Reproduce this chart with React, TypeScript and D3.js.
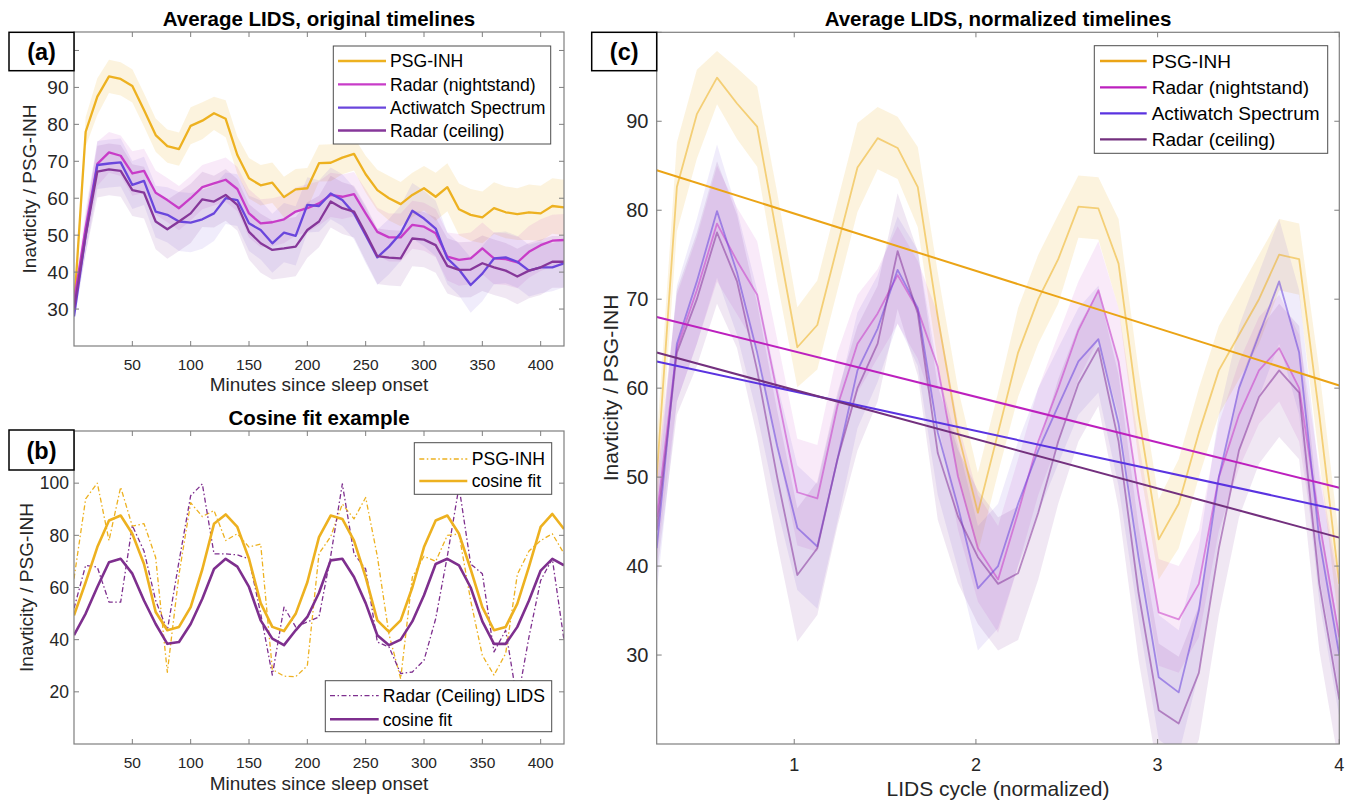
import React from "react";
import * as d3 from "d3";

const FONT = "'Liberation Sans', Arial, Helvetica, sans-serif";
const INK = "#262626";
const AXIS = "#7f7f7f";

// ---------- shared ----------
const seriesNames = ["PSG-INH", "Radar (nightstand)", "Actiwatch Spectrum", "Radar (ceiling)"];
const seriesColors = ["#EDB120", "#C83CC8", "#6A46DC", "#86379A"];
const trendColors = ["#EBA416", "#BC20BE", "#5A33E0", "#73307E"];

// ---------- panel (a) ----------
const minutes = [0, 10, 20, 30, 40, 50, 60, 70, 80, 90, 100, 110, 120, 130, 140, 150, 160, 170, 180, 190, 200,
  210, 220, 230, 240, 250, 260, 270, 280, 290, 300, 310, 320, 330, 340, 350, 360, 370, 380, 390, 400, 410, 420];

const psgA = [30, 78, 87.5, 93, 92.3, 90.4, 83.9, 77.1, 74.1, 73.3, 79.6, 81, 83, 81.5, 71.7, 65.4, 63.5, 64.2, 60.3,
  62.4, 62.7, 69.5, 69.6, 71, 72, 66.5, 62.2, 60, 58.4, 60.9, 62.7, 60.4, 63, 57, 55.5, 54.8, 57.3, 56.2, 55.7, 56.2,
  55.9, 57.9, 57.5];
const nightA = [32, 52, 69.3, 72.4, 71.5, 66.7, 67.4, 61.5, 59.5, 57.3, 60, 63, 64, 65, 62.5, 55.9, 53.2, 53.5, 54.3,
  56.4, 57.3, 58.6, 60.9, 60.4, 61.1, 55.9, 50.9, 49.4, 49.4, 52.8, 52.3, 50.5, 44.2, 43.3, 43.7, 46.4, 43.7, 43.5,
  42.6, 45.5, 47.3, 48.5, 48.7];
const actiA = [28, 50, 69, 69.4, 69.7, 63.6, 64.7, 56.4, 55.5, 53.7, 53.4, 54.3, 55.9, 60, 59.5, 53.2, 51.4, 47.8, 50.7,
  49.8, 58.2, 57.9, 61.3, 59.5, 55.9, 50, 44, 46.9, 50.5, 56.6, 54.5, 51.8, 43.7, 40.7, 36.5, 39.6, 43.7, 44, 42.8,
  40.4, 41.3, 41.3, 42.4];
const ceilA = [30, 50, 67.2, 67.8, 67.4, 62.2, 61.5, 53.7, 51.6, 53.7, 55.9, 59.7, 59.1, 60.9, 58.2, 50.9, 47.8, 46,
  46.4, 46.9, 51.4, 53.7, 59.1, 57.3, 56.4, 50.5, 44.3, 43.9, 43.7, 49.1, 48.8, 47.3, 41.7, 40.6, 40.7, 42.4, 41.3,
  40.4, 38.8, 40.4, 41.3, 42.8, 42.8];

const psgSdA = [1.5, 4, 5, 4.5, 4.5, 4.5, 4.5, 4.5, 4.5, 4.5, 5, 5, 4.5, 5, 5, 5.5, 5.5, 5.5, 5.5, 5.5, 5.5, 5, 5, 4.5,
  4.5, 5, 5.5, 6, 6, 6, 6, 6.5, 6.5, 7, 7, 7, 7, 7, 7, 7.5, 7.5, 7.5, 7.5];
const nightSdA = [2, 5, 6, 5.5, 5.5, 6, 6, 6, 6, 6, 6, 6, 6, 6, 6, 6.5, 6.5, 6.5, 6.5, 6.5, 6.5, 6, 6, 6, 6, 6.5, 6.5,
  6.5, 6.5, 6.5, 6.5, 6.5, 6.5, 7, 7, 7, 7, 7, 7, 7, 7, 7, 7];
const actiSdA = [2, 5, 6.5, 6.5, 6.5, 6.5, 6.5, 7, 7.5, 8, 8, 8, 7.5, 7, 7, 7.5, 8, 8, 8, 8, 7.5, 7, 7, 7, 7, 7.5, 7.5,
  7.5, 7.5, 7.5, 7.5, 7.5, 7, 7, 7.5, 7.5, 7, 7, 7, 7, 7, 6.5, 6.5];
const ceilSdA = [2, 5, 7, 7, 7, 7, 7, 7.5, 8, 8, 8, 7.5, 7, 7, 7, 7.5, 8, 8, 8, 8, 7.5, 7, 7, 7, 7, 7.5, 7.5, 7.5, 7.5,
  7.5, 7.5, 7.5, 7.5, 7.5, 7.5, 7.5, 7.5, 7.5, 7.5, 7.5, 7.5, 7, 7];

// ---------- panel (b) ----------
const psgRawB = [63.4, 94, 100, 78, 98.5, 83.5, 84.5, 71.5, 27.5, 65, 92.5, 87.2, 89.5, 78, 80.6, 75.5, 76.7, 28.6, 26,
  25.8, 30, 73, 79.5, 92, 86.3, 94.5, 72, 42, 25, 64, 72, 70, 80, 80.5, 55, 34, 26.4, 34.7, 65, 74, 78, 80.6, 73];
const ceilRawB = [52, 68.5, 67.8, 54.4, 54.4, 83.7, 74, 55, 43.6, 70, 95.2, 99.7, 72.9, 72.9, 72.5, 71, 50, 26.4, 52.5,
  44.9, 46.8, 48.7, 72, 99.7, 72.9, 67.1, 39.1, 37.2, 27, 27.6, 32.1, 48, 72, 98.7, 69, 65.3, 35.3, 43.6, 16.2, 41.1,
  62.7, 71, 39.8];
const psgFitB = [49.3, 62, 75.5, 85.7, 87.6, 80.6, 69, 50.6, 43.6, 44.9, 52.5, 67, 84.4, 88, 83.2, 71, 54, 44.9, 43.3,
  49.9, 62, 79.3, 87.6, 86.3, 78, 64, 47.4, 43, 47.4, 60, 75.5, 85.7, 87.6, 80.6, 67, 52.5, 43.6, 44.9, 53.8, 68, 83.2,
  88.2, 82.4];
const ceilFitB = [41.7, 50, 60.2, 69.7, 71, 65.3, 55, 46, 38.4, 39.1, 46, 55.7, 67.1, 71, 68, 60.2, 47.4, 40.4, 37.9,
  43.6, 48.7, 58, 70.4, 71, 64, 54, 41.7, 37.9, 40, 47, 57, 69, 71, 68.5, 60, 47, 38.4, 38.4, 44.9, 55, 66.5, 71, 68.5];

// ---------- panel (c) ----------
const cycleX = [0.243, 0.354, 0.464, 0.575, 0.685, 0.796, 0.906, 1.017, 1.127, 1.238, 1.348, 1.459, 1.569, 1.68, 1.79,
  1.901, 2.011, 2.122, 2.232, 2.343, 2.453, 2.564, 2.674, 2.785, 2.895, 3.006, 3.116, 3.227, 3.337, 3.448, 3.558,
  3.669, 3.779, 3.89, 4.0];
const psgC = [50, 82.6, 90.8, 94.9, 92, 89.4, 77, 64.6, 67.1, 76, 84.8, 88.1, 87, 82.6, 68, 55, 46, 55, 64, 70, 74.5,
  80.4, 80.2, 74, 57, 43, 47, 55, 62, 66, 70, 75, 74.5, 57, 38];
const nightC = [45.5, 64.5, 71, 78.5, 74.3, 70.5, 59.5, 48.3, 47.6, 58, 65, 68.4, 72.7, 68.8, 62.4, 50.1, 42, 38.5, 46,
  54, 60, 66.5, 71, 63, 48, 34.8, 34, 38, 50, 57, 62, 64.5, 60, 45, 32];
const actiC = [42, 65, 72, 79.9, 73, 64, 53.5, 44.3, 42.2, 52, 62, 66.7, 73.3, 69, 55, 46.7, 37.5, 40, 47, 53, 58, 63,
  65.5, 56, 41, 27.5, 25.8, 35, 50, 60, 66, 72, 64, 43, 30];
const ceilC = [44, 64, 70, 77.5, 72, 62, 50, 39, 42, 52, 60, 65, 75.4, 68.4, 52.7, 45.6, 41, 38, 39.2, 46, 54, 60.5,
  64.5, 54, 37, 23.8, 22.3, 28, 42, 53, 59, 62, 59.5, 38, 25];

const psgSdC = [4, 5, 5, 3, 4, 4.5, 5, 4.5, 5, 5, 5, 3.5, 3.5, 4.5, 5, 5, 4.5, 4.5, 5, 5, 5, 3.5, 3.5, 5, 5, 4.5, 5, 5,
  5, 5, 5, 4, 4, 5, 5];
const nightSdC = [5, 6, 6, 6.5, 6, 6, 6, 6, 6, 6, 5.5, 5, 5.5, 5.5, 6, 6, 6, 6, 6, 6, 6, 5.5, 5.5, 6, 6, 6, 6, 6, 6, 6,
  6, 6, 6, 6, 6];
const actiSdC = [5, 6.5, 7, 7.5, 7, 7, 7, 7, 7, 7, 6.5, 6, 6, 6.5, 7, 7, 7, 7, 7, 7, 6.5, 6, 6, 7, 7, 7, 7, 7, 7, 7, 7,
  7, 7, 7, 7];
const ceilSdC = [5, 7, 7.5, 8, 7.5, 7.5, 7.5, 7.5, 7.5, 7.5, 7, 6.5, 6.5, 7, 7.5, 7.5, 7.5, 7.5, 7.5, 7.5, 7, 6.5, 6.5,
  7.5, 7.5, 7.5, 7.5, 7.5, 7.5, 7.5, 7.5, 7.5, 7.5, 7.5, 7.5];

// linear trends (value at left end, value at right end)
const trendStart = [84.5, 68, 63, 64];
const trendEnd = [60.3, 48.8, 46.3, 43.2];

type Box = { l: number; r: number; t: number; b: number };
type Sc = d3.ScaleLinear<number, number>;

const boxA: Box = { l: 74, r: 564, t: 32, b: 346 };
const boxB: Box = { l: 74, r: 564, t: 431, b: 744 };
const boxC: Box = { l: 656.7, r: 1339.3, t: 32.3, b: 744 };

// ticks whose labels sit under the panel tags in the original
const hiddenLabels = [100];

function Frame(p: {
  box: Box; x: Sc; y: Sc; xTicks: number[]; yTicks: number[];
  xFont: number; yFont: number; xBase: number; yRight: number; hide?: number[];
}) {
  const { box, x, y } = p;
  const tk = 5;
  const hide = p.hide || [];
  return (
    <g>
      {p.xTicks.map(v => (
        <g key={"x" + v}>
          <line x1={x(v)} x2={x(v)} y1={box.b} y2={box.b - tk} stroke={AXIS} />
          <line x1={x(v)} x2={x(v)} y1={box.t} y2={box.t + tk} stroke={AXIS} />
          <text x={x(v)} y={p.xBase} textAnchor="middle" fontSize={p.xFont} fill={INK}>{v}</text>
        </g>
      ))}
      {p.yTicks.map(v => (
        <g key={"y" + v}>
          <line x1={box.l} x2={box.l + tk} y1={y(v)} y2={y(v)} stroke={AXIS} />
          <line x1={box.r} x2={box.r - tk} y1={y(v)} y2={y(v)} stroke={AXIS} />
          {hide.includes(v) ? null : (
            <text x={p.yRight} y={y(v) + p.yFont * 0.36} textAnchor="end" fontSize={p.yFont} fill={INK}>{v}</text>
          )}
        </g>
      ))}
      <rect x={box.l} y={box.t} width={box.r - box.l} height={box.b - box.t} fill="none" stroke={AXIS} strokeWidth={1.2} />
    </g>
  );
}

function Tag({ x, y, w, h, label }: { x: number; y: number; w: number; h: number; label: string }) {
  return (
    <g>
      <rect x={x} y={y} width={w} height={h} fill="#fff" stroke="#000" strokeWidth={1.5} />
      <text x={x + w / 2} y={y + h / 2 + 8.5} textAnchor="middle" fontSize={23.5} fontWeight="bold" fill="#000">{label}</text>
    </g>
  );
}

function Legend(p: {
  x0: number; y0: number; x1: number; y1: number; rows: number[]; lx0: number; lx1: number; tx: number;
  font: number; items: { name: string; color: string; dash?: string; width: number }[];
}) {
  return (
    <g>
      <rect x={p.x0} y={p.y0} width={p.x1 - p.x0} height={p.y1 - p.y0} fill="#fff" stroke="#4d4d4d" strokeWidth={1} />
      {p.items.map((it, i) => (
        <g key={it.name}>
          <line x1={p.lx0} x2={p.lx1} y1={p.rows[i]} y2={p.rows[i]} stroke={it.color} strokeWidth={it.width}
            strokeDasharray={it.dash} />
          <text x={p.tx} y={p.rows[i] + p.font * 0.36} fontSize={p.font} fill="#000">{it.name}</text>
        </g>
      ))}
    </g>
  );
}

function Bands({ xs, means, sds, x, y, colors, opac }: {
  xs: number[]; means: number[][]; sds: number[][]; x: Sc; y: Sc; colors: string[]; opac: number[];
}) {
  return (
    <g>
      {means.map((m, k) => {
        const area = d3.area<number>()
          .x((_, i) => x(xs[i]))
          .y0((v, i) => y(v - sds[k][i]))
          .y1((v, i) => y(v + sds[k][i]));
        return <path key={k} d={area(m) || ""} fill={colors[k]} fillOpacity={opac[k]} stroke="none" />;
      })}
    </g>
  );
}

function Lines({ xs, series, x, y, colors, width, opacity = 1, dash }: {
  xs: number[]; series: number[][]; x: Sc; y: Sc; colors: string[]; width: number; opacity?: number; dash?: string;
}) {
  return (
    <g>
      {series.map((s, k) => {
        const line = d3.line<number>().x((_, i) => x(xs[i])).y(v => y(v));
        return <path key={k} d={line(s) || ""} fill="none" stroke={colors[k]} strokeWidth={width}
          strokeOpacity={opacity} strokeDasharray={dash} strokeLinejoin="round" />;
      })}
    </g>
  );
}

export default function App() {
  const xA = d3.scaleLinear().domain([0, 420]).range([boxA.l, boxA.r]);
  const yA = d3.scaleLinear().domain([20, 105]).range([boxA.b, boxA.t]);
  const xB = d3.scaleLinear().domain([0, 420]).range([boxB.l, boxB.r]);
  const yB = d3.scaleLinear().domain([0, 120]).range([boxB.b, boxB.t]);
  const xC = d3.scaleLinear().domain([0.243, 4]).range([boxC.l, boxC.r]);
  const yC = d3.scaleLinear().domain([20, 100]).range([boxC.b, boxC.t]);

  const meansA = [psgA, nightA, actiA, ceilA];
  const sdsA = [psgSdA, nightSdA, actiSdA, ceilSdA];
  const meansC = [psgC, nightC, actiC, ceilC];
  const sdsC = [psgSdC, nightSdC, actiSdC, ceilSdC];
  const bandOpac = [0.15, 0.11, 0.1, 0.12];
  const minTicks = [50, 100, 150, 200, 250, 300, 350, 400];

  const clip = (id: string, b: Box) => (
    <clipPath id={id}><rect x={b.l} y={b.t} width={b.r - b.l} height={b.b - b.t} /></clipPath>
  );

  return (
    <svg width={1349} height={804} style={{ position: "absolute", left: 0, top: 0, background: "#fff" }}
      fontFamily={FONT}>
      <defs>
        {clip("ca", boxA)}
        {clip("cb", boxB)}
        {clip("cc", boxC)}
      </defs>

      {/* ---------- (a) ---------- */}
      <g clipPath="url(#ca)">
        <Bands xs={minutes} means={meansA} sds={sdsA} x={xA} y={yA} colors={seriesColors} opac={bandOpac} />
        <Lines xs={minutes} series={meansA} x={xA} y={yA} colors={seriesColors} width={2.3} />
      </g>
      <Frame box={boxA} x={xA} y={yA} xTicks={minTicks} yTicks={[30, 40, 50, 60, 70, 80, 90, 100]}
        xFont={15.5} yFont={19} xBase={370} yRight={68.5} hide={hiddenLabels} />
      <text x={319} y={26} textAnchor="middle" fontSize={20.5} fontWeight="bold" fill="#000">
        Average LIDS, original timelines</text>
      <text x={319} y={391} textAnchor="middle" fontSize={19} fill={INK}>Minutes since sleep onset</text>
      <text transform="translate(36,189) rotate(-90)" textAnchor="middle" fontSize={19} fill={INK}>
        Inavticity / PSG-INH</text>
      <Legend x0={333.3} y0={46} x1={550.7} y1={144} rows={[61, 84.3, 107.7, 130.5]} lx0={338} lx1={386} tx={390}
        font={17.6} items={seriesNames.map((n, i) => ({ name: n, color: seriesColors[i], width: 2.3 }))} />
      <Tag x={9} y={32.3} w={65} h={38.4} label="(a)" />

      {/* ---------- (b) ---------- */}
      <g clipPath="url(#cb)">
        <Lines xs={minutes} series={[psgRawB]} x={xB} y={yB} colors={[seriesColors[0]]} width={1.3} dash="5 2.5 1.5 2.5" />
        <Lines xs={minutes} series={[ceilRawB]} x={xB} y={yB} colors={["#7E2F8E"]} width={1.3} dash="5 2.5 1.5 2.5" />
        <Lines xs={minutes} series={[psgFitB, ceilFitB]} x={xB} y={yB} colors={[seriesColors[0], "#7E2F8E"]} width={2.6} />
      </g>
      <Frame box={boxB} x={xB} y={yB} xTicks={minTicks} yTicks={[20, 40, 60, 80, 100]}
        xFont={15.5} yFont={17.5} xBase={768} yRight={69} />
      <text x={319} y={425} textAnchor="middle" fontSize={20.5} fontWeight="bold" fill="#000">Cosine fit example</text>
      <text x={319} y={790} textAnchor="middle" fontSize={19} fill={INK}>Minutes since sleep onset</text>
      <text transform="translate(33,587.5) rotate(-90)" textAnchor="middle" fontSize={19} fill={INK}>
        Inavticity / PSG-INH</text>
      <Legend x0={414.3} y0={442.7} x1={551.7} y1={494.3} rows={[459, 481]} lx0={419.3} lx1={467.3} tx={471.7}
        font={17.6} items={[
          { name: "PSG-INH", color: seriesColors[0], dash: "5 2.5 1.5 2.5", width: 1.3 },
          { name: "cosine fit", color: seriesColors[0], width: 2.6 },
        ]} />
      <Legend x0={325.3} y0={680.7} x1={551.7} y1={731.7} rows={[695.7, 719.3]} lx0={330} lx1={378.7} tx={382.7}
        font={17.6} items={[
          { name: "Radar (Ceiling) LIDS", color: "#7E2F8E", dash: "5 2.5 1.5 2.5", width: 1.3 },
          { name: "cosine fit", color: "#7E2F8E", width: 2.6 },
        ]} />
      <Tag x={9} y={430} w={65} h={40} label="(b)" />

      {/* ---------- (c) ---------- */}
      <g clipPath="url(#cc)">
        <Bands xs={cycleX} means={meansC} sds={sdsC} x={xC} y={yC} colors={seriesColors} opac={bandOpac} />
        <Lines xs={cycleX} series={meansC} x={xC} y={yC} colors={seriesColors} width={1.8} opacity={0.55} />
        {trendStart.map((v, k) => (
          <line key={k} x1={xC(0.243)} x2={xC(4)} y1={yC(v)} y2={yC(trendEnd[k])} stroke={trendColors[k]}
            strokeWidth={2} />
        ))}
      </g>
      <Frame box={boxC} x={xC} y={yC} xTicks={[1, 2, 3, 4]} yTicks={[30, 40, 50, 60, 70, 80, 90, 100]}
        xFont={18} yFont={20} xBase={771} yRight={648.5} hide={hiddenLabels} />
      <text x={998} y={26} textAnchor="middle" fontSize={20.5} fontWeight="bold" fill="#000">
        Average LIDS, normalized timelines</text>
      <text x={998} y={796} textAnchor="middle" fontSize={21} fill={INK}>LIDS cycle (normalized)</text>
      <text transform="translate(618,388) rotate(-90)" textAnchor="middle" fontSize={21} fill={INK}>
        Inavticity / PSG-INH</text>
      <Legend x0={1094.3} y0={45.7} x1={1327.7} y1={153.3} rows={[61, 87.3, 113.3, 139.3]} lx0={1100} lx1={1146.7}
        tx={1151.7} font={19} items={seriesNames.map((n, i) => ({ name: n, color: trendColors[i], width: 2.3 }))} />
      <Tag x={591.7} y={32.3} w={65} h={38.4} label="(c)" />
    </svg>
  );
}
